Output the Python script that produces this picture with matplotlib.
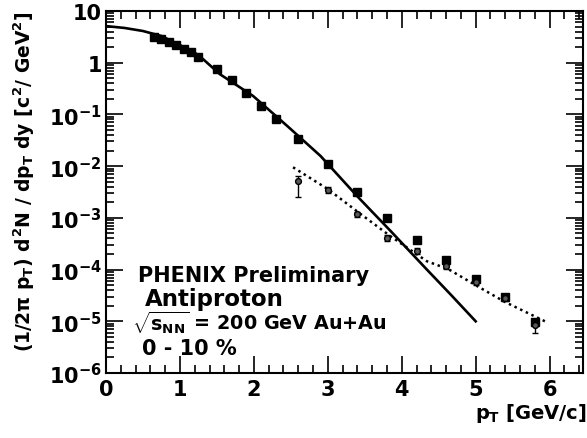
import numpy as np
import matplotlib
matplotlib.use("Agg")
import matplotlib.pyplot as plt
from matplotlib.ticker import LogLocator, MultipleLocator, NullFormatter

plt.rcParams['font.family'] = ['DejaVu Sans']
plt.rcParams['font.weight'] = 'bold'
plt.rcParams['mathtext.fontset'] = 'custom'
plt.rcParams['mathtext.rm'] = 'DejaVu Sans:bold'
plt.rcParams['mathtext.it'] = 'DejaVu Sans:bold'
plt.rcParams['mathtext.bf'] = 'DejaVu Sans:bold'
plt.rcParams['mathtext.sf'] = 'DejaVu Sans:bold'

# antiproton spectrum, 0-10% central Au+Au
pt_sq = [0.65, 0.75, 0.85, 0.95, 1.05, 1.15, 1.25, 1.5, 1.7, 1.9, 2.1, 2.3,
         2.6, 3.0, 3.4, 3.8, 4.2, 4.6, 5.0, 5.4, 5.8]
y_sq = [3.14, 2.87, 2.51, 2.2, 1.88, 1.61, 1.29, 0.76, 0.46, 0.26, 0.146, 0.081,
        0.033, 0.011, 3.2e-3, 1.0e-3, 3.7e-4, 1.5e-4, 6.6e-5, 2.9e-5, 9.5e-6]

# second data set at high pT, with errors
pt_ci = [2.6, 3.0, 3.4, 3.8, 4.2, 4.6, 5.0, 5.4, 5.8]
y_ci = [5.1e-3, 3.5e-3, 1.17e-3, 4.1e-4, 2.3e-4, 1.17e-4, 5.7e-5, 2.8e-5, 8.5e-6]
err_lo = [2.6e-3, 0.5e-3, 0.15e-3, 0.5e-4, 0.3e-4, 0.15e-4, 0.7e-5, 0.3e-5, 2.5e-6]
err_hi = [1.4e-3, 0.5e-3, 0.15e-3, 0.5e-4, 0.3e-4, 0.15e-4, 0.7e-5, 0.3e-5, 2.5e-6]

# hydro curve (solid) and fit (dotted)
pt_solid = [0.0, 0.25, 0.5, 0.75, 1.0, 1.25, 1.54, 1.99, 2.45, 2.9, 3.4, 3.84,
            4.34, 4.67, 5.0]
y_solid = [5.1, 4.7, 4.1, 3.28, 2.19, 1.41, 0.60, 0.227, 0.060, 0.0158, 2.6e-3,
           5.75e-4, 1.0e-4, 3.2e-5, 1.0e-5]
pt_dot = [2.53, 3.0, 3.41, 3.84, 4.34, 4.63, 5.02, 5.40, 5.97]
y_dot = [9.5e-3, 3.6e-3, 1.29e-3, 4.5e-4, 1.45e-4, 1.02e-4, 4.8e-5, 2.35e-5, 9.5e-6]

fig = plt.figure(figsize=(5.87, 4.39), dpi=100)
ax = fig.add_axes([0.1806, 0.148, 0.8124, 0.8247])

ax.plot(pt_solid, y_solid, color='black', lw=1.9, zorder=2)
ax.plot(pt_dot, y_dot, color='black', lw=1.8, ls=(0, (1, 1.5)), zorder=2)
ax.plot(pt_sq, y_sq, ls='none', marker='s', ms=5.2, color='black', zorder=3)
ax.errorbar(pt_ci, y_ci, yerr=[err_lo, err_hi], fmt='o', ms=4.2, mfc='0.35',
            mec='black', ecolor='black', elinewidth=1, capsize=2, zorder=3)

ax.set_yscale('log')
ax.set_xlim(0, 6.45)
ax.set_ylim(1e-6, 10)

ax.xaxis.set_major_locator(MultipleLocator(1))
ax.xaxis.set_minor_locator(MultipleLocator(0.2))
ax.yaxis.set_minor_locator(LogLocator(base=10, subs=np.arange(2, 10), numticks=10))
ax.yaxis.set_minor_formatter(NullFormatter())
ax.set_yticks([1e-6, 1e-5, 1e-4, 1e-3, 1e-2, 1e-1, 1, 10])
ax.set_yticklabels(['$10^{-6}$', '$10^{-5}$', '$10^{-4}$', '$10^{-3}$',
                    '$10^{-2}$', '$10^{-1}$', '1', '10'])

ax.tick_params(which='both', direction='in', top=True, right=True,
               labelsize=15, width=1.2)
ax.tick_params(axis='x', pad=4)
ax.tick_params(axis='y', pad=3)
ax.tick_params(which='major', length=12)
ax.tick_params(which='minor', length=6)
for s in ax.spines.values():
    s.set_linewidth(1.5)

fig.text(0.999, 0.045, r'$p_{T}$ [GeV/c]', fontsize=14, fontweight='bold',
         ha='right', va='baseline')
fig.text(0.042, 0.585,
         r'(1/2$\pi$ $p_{T}$) $d^{2}N$ / $dp_{T}$ $dy$ [$c^{2}$/ GeV$^{2}$]',
         fontsize=13.5, fontweight='bold', rotation=90, ha='center', va='center')

ax.text(0.43, 6.0e-5, 'PHENIX Preliminary', fontsize=15, fontweight='bold')
ax.text(0.53, 2.1e-5, 'Antiproton', fontsize=16.5, fontweight='bold')
ax.text(0.35, 7.1e-6, r'$\sqrt{s_{NN}}$ = 200 GeV Au+Au', fontsize=13.8, fontweight='bold')
ax.text(0.49, 2.3e-6, '0 - 10 %', fontsize=15, fontweight='bold')

fig.savefig('out.png', dpi=100)
